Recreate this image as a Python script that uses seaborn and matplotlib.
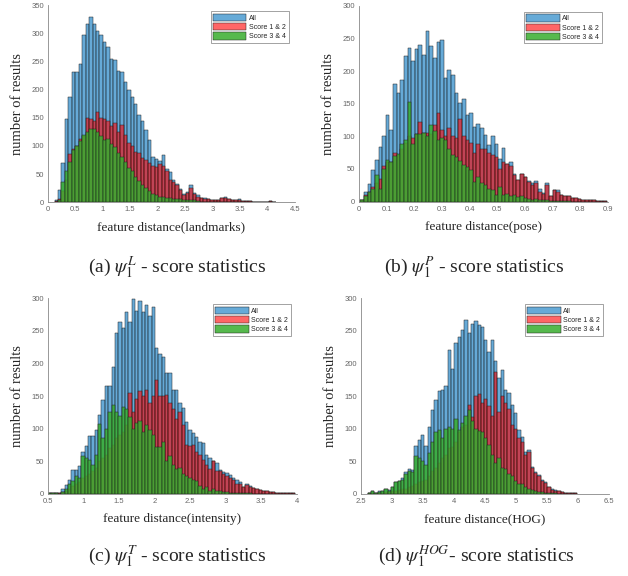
import numpy as np
import pandas as pd
import matplotlib
matplotlib.use('Agg')
import matplotlib.pyplot as plt
import seaborn as sns

sns.set_style("white")
plt.rcParams['font.family'] = ['Liberation Serif', 'DejaVu Serif']
plt.rcParams['mathtext.fontset'] = 'stix'

# ---- data: bin counts ----
# (a) landmarks
a_all = [4, 22, 70, 148, 187, 231, 231, 246, 297, 316,
         329, 316, 305, 297, 285, 276, 255, 252, 233, 232,
         214, 199, 187, 175, 154, 145, 128, 110, 80, 77,
         74, 83, 59, 53, 39, 33, 24, 15, 18, 30,
         16, 12, 8, 7, 5, 4, 3, 4, 8, 9,
         5, 3, 4, 5, 2, 2, 2, 1, 1, 0,
         0, 1, 2, 0]
a_low = [2, 5, 20, 40, 86, 95, 100, 112, 118, 150,
         148, 145, 160, 150, 148, 145, 135, 140, 125, 138,
         120, 105, 100, 90, 88, 78, 75, 70, 65, 62,
         68, 65, 55, 40, 35, 30, 22, 12, 16, 26,
         14, 10, 7, 6, 5, 4, 3, 4, 8, 8,
         5, 3, 3, 4, 2, 2, 2, 1, 1, 0,
         0, 1, 2, 0]
a_high = [1, 3, 35, 55, 72, 92, 100, 108, 120, 125,
          130, 130, 125, 118, 110, 112, 103, 98, 88, 80,
          72, 60, 55, 45, 38, 30, 25, 20, 15, 12,
          10, 9, 8, 7, 6, 5, 5, 4, 4, 3,
          3, 2, 1, 1, 1, 1, 0, 1, 1, 1,
          0, 0, 0, 0, 0, 0, 0, 0, 0, 0,
          0, 0, 0, 0]

# (b) pose
b_all = [3, 14, 27, 48, 63, 84, 100, 133, 110, 180,
         167, 187, 223, 236, 216, 233, 240, 225, 261, 238,
         220, 245, 248, 189, 201, 194, 166, 151, 157, 133,
         136, 115, 119, 112, 102, 87, 100, 89, 66, 82,
         57, 61, 43, 33, 43, 38, 31, 28, 31, 19,
         13, 29, 8, 18, 18, 10, 9, 8, 5, 5,
         4, 3, 3, 2, 2, 1, 1, 1]
b_low = [2, 10, 14, 22, 28, 35, 55, 60, 60, 75,
         72, 80, 90, 100, 98, 103, 122, 105, 105, 103,
         118, 135, 110, 100, 113, 100, 98, 126, 100, 95,
         90, 75, 88, 80, 80, 75, 72, 68, 50, 60,
         57, 55, 40, 33, 43, 38, 30, 25, 28, 15,
         12, 25, 8, 18, 15, 10, 9, 8, 5, 5,
         4, 3, 3, 2, 2, 1, 1, 1]
b_high = [2, 8, 14, 20, 40, 20, 50, 63, 60, 70,
          73, 88, 95, 152, 88, 104, 103, 105, 100, 118,
          108, 95, 98, 95, 80, 72, 68, 62, 56, 53,
          48, 30, 38, 28, 25, 20, 18, 10, 22, 10,
          12, 8, 10, 7, 8, 6, 4, 3, 4, 3,
          2, 2, 1, 1, 1, 1, 1, 1, 0, 0,
          0, 0, 0, 0, 0, 0, 0, 0]

# (c) intensity
c_all = [1, 2, 2, 1, 7, 14, 21, 37, 37, 43,
         65, 73, 89, 89, 98, 121, 144, 165, 166, 195,
         246, 264, 254, 279, 264, 298, 281, 296, 279, 290,
         272, 286, 223, 215, 210, 185, 185, 159, 159, 140,
         131, 111, 98, 93, 88, 80, 78, 60, 55, 50,
         47, 37, 34, 32, 29, 24, 21, 19, 11, 15,
         12, 9, 7, 6, 5, 4, 3, 3, 2, 2,
         2, 1, 1, 1]
c_low = [1, 1, 1, 1, 3, 5, 8, 12, 15, 18,
         25, 28, 30, 35, 40, 50, 55, 60, 70, 75,
         85, 90, 95, 105, 155, 125, 145, 158, 150, 160,
         140, 150, 174, 150, 150, 152, 140, 130, 115, 125,
         105, 75, 74, 75, 65, 60, 52, 45, 38, 50,
         35, 35, 30, 28, 25, 22, 15, 15, 10, 13,
         11, 9, 7, 6, 5, 4, 3, 3, 2, 2,
         2, 1, 1, 1]
c_high = [1, 1, 1, 0, 3, 8, 15, 20, 28, 25,
          58, 55, 52, 45, 60, 107, 85, 100, 125, 136,
          125, 120, 133, 130, 118, 100, 108, 112, 95, 105,
          98, 90, 72, 72, 80, 50, 58, 45, 38, 40,
          30, 28, 25, 22, 20, 12, 8, 10, 5, 8,
          5, 4, 3, 3, 2, 2, 1, 1, 1, 1,
          1, 0, 0, 0, 0, 0, 0, 0, 0, 0,
          0, 0, 0, 0]

# (d) HOG
d_all = [2, 5, 2, 4, 4, 7, 6, 11, 19, 20,
         24, 33, 39, 37, 73, 83, 90, 73, 103, 129,
         144, 157, 160, 165, 221, 192, 231, 241, 251, 266,
         246, 261, 265, 259, 256, 236, 218, 236, 203, 177,
         190, 159, 154, 136, 124, 98, 88, 65, 67, 42,
         34, 29, 21, 19, 11, 7, 6, 4, 3, 2,
         2, 1, 2]
d_low = [1, 2, 1, 2, 2, 3, 3, 4, 5, 6,
         7, 8, 10, 12, 15, 18, 20, 22, 28, 35,
         40, 48, 55, 60, 70, 72, 80, 95, 102, 105,
         136, 118, 150, 153, 140, 145, 135, 120, 187, 125,
         150, 140, 130, 105, 100, 85, 80, 60, 65, 40,
         32, 27, 20, 17, 10, 6, 5, 4, 3, 2,
         2, 1, 2]
d_high = [2, 5, 2, 3, 4, 7, 5, 10, 18, 20,
          22, 30, 35, 33, 58, 55, 50, 45, 63, 80,
          95, 98, 85, 100, 103, 100, 115, 98, 108, 120,
          128, 112, 100, 97, 95, 85, 75, 60, 48, 55,
          40, 38, 30, 28, 20, 15, 15, 10, 8, 6,
          5, 3, 3, 2, 1, 1, 1, 0, 0, 0,
          0, 0, 0]

series_labels = ['All', 'Score 1 & 2', 'Score 3 & 4']

panels = [
    dict(rect=[0.0764, 0.649, 0.393, 0.342], start=0.12, width=0.063,
         counts=(a_all, a_low, a_high), xlim=(0, 4.5), xticks=np.arange(0, 4.51, 0.5),
         ylim=(0, 350), yticks=np.arange(0, 351, 50),
         xlabel='feature distance(landmarks)',
         caption=r'(a) $\psi_1^{L}$ - score statistics', cap_xy=(0.283, 0.536)),
    dict(rect=[0.5717, 0.650, 0.3965, 0.340], start=0.005, width=0.0131,
         counts=(b_all, b_low, b_high), xlim=(0, 0.9), xticks=np.arange(0, 0.91, 0.1),
         ylim=(0, 300), yticks=np.arange(0, 301, 50),
         xlabel='feature distance(pose)',
         caption=r'(b) $\psi_1^{P}$ - score statistics', cap_xy=(0.755, 0.536)),
    dict(rect=[0.0764, 0.1424, 0.3965, 0.340], start=0.5, width=0.047,
         counts=(c_all, c_low, c_high), xlim=(0.5, 4), xticks=np.arange(0.5, 4.01, 0.5),
         ylim=(0, 300), yticks=np.arange(0, 301, 50),
         xlabel='feature distance(intensity)',
         caption=r'(c) $\psi_1^{T}$ - score statistics', cap_xy=(0.283, 0.034)),
    dict(rect=[0.5748, 0.1424, 0.395, 0.340], start=2.607, width=0.0537,
         counts=(d_all, d_low, d_high), xlim=(2.5, 6.5), xticks=np.arange(2.5, 6.51, 0.5),
         ylim=(0, 300), yticks=np.arange(0, 301, 50),
         xlabel='feature distance(HOG)',
         caption=r'(d) $\psi_1^{HOG}$- score statistics', cap_xy=(0.758, 0.034)),
]

colors = [(0.0, 0.447, 0.741), (1.0, 0.0, 0.0), (0.22, 0.68, 0.18)]
alphas = [0.6, 0.6, 0.85]


def tick_fmt(v):
    s = f'{v:.1f}'
    return s[:-2] if s.endswith('.0') else s


def draw_panel(fig, p):
    ax = fig.add_axes(p['rect'])
    n = len(p['counts'][0])
    edges = p['start'] + p['width'] * np.arange(n + 1)
    centers = (edges[:-1] + edges[1:]) / 2
    for counts, color, alpha, label in zip(p['counts'], colors, alphas, series_labels):
        df = pd.DataFrame({'x': centers, 'w': np.asarray(counts, dtype=float)})
        sns.histplot(data=df, x='x', weights='w', bins=list(edges), color=color, alpha=alpha,
                     edgecolor='#222222', linewidth=0.35, label=label, ax=ax)
    ax.set_xlim(*p['xlim'])
    ax.set_ylim(*p['ylim'])
    ax.set_xticks(p['xticks'])
    ax.set_xticklabels([tick_fmt(v) for v in p['xticks']])
    ax.set_yticks(p['yticks'])
    ax.set_yticklabels([str(int(v)) for v in p['yticks']])
    ax.tick_params(direction='in', length=2, width=0.5, colors='#666666',
                   labelsize=5.5)
    ax.tick_params(axis='x', pad=3)
    ax.tick_params(axis='y', pad=3)
    for lab in ax.get_xticklabels() + ax.get_yticklabels():
        lab.set_family('Liberation Sans')
    for side in ['top', 'right']:
        ax.spines[side].set_visible(False)
    for side in ['left', 'bottom']:
        ax.spines[side].set_color('#888888')
        ax.spines[side].set_linewidth(0.6)
    ax.set_xlabel(p['xlabel'], fontsize=9.5, labelpad=6)
    ax.set_ylabel('number of results', fontsize=10.5, labelpad=5)
    leg = ax.legend(loc='upper right', frameon=True, fancybox=False,
                    handlelength=4.8, handleheight=1.2, borderpad=0.35,
                    labelspacing=0.2, handletextpad=0.4, borderaxespad=0.9,
                    prop={'family': 'Liberation Sans', 'size': 5})
    leg.get_frame().set_edgecolor('#777777')
    leg.get_frame().set_linewidth(0.6)
    fig.text(p['cap_xy'][0], p['cap_xy'][1], p['caption'], ha='center', va='center',
             fontsize=14)
    return ax


fig = plt.figure(figsize=(6.28, 5.76), dpi=100)
for p in panels:
    draw_panel(fig, p)

fig.savefig('out.png', dpi=100, facecolor='white')
plt.close(fig)
